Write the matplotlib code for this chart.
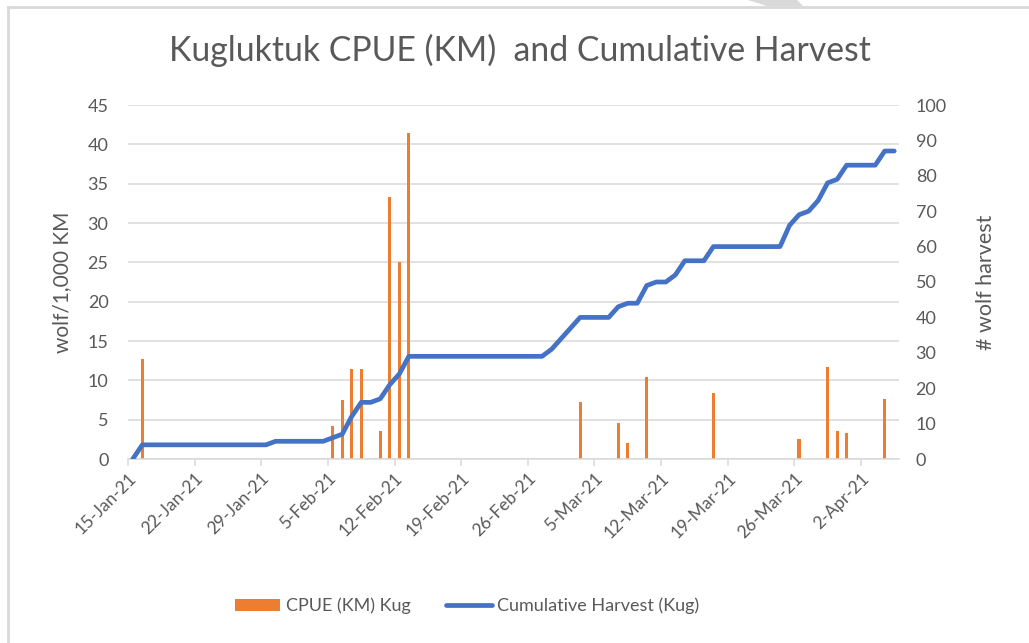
import datetime as dt
import matplotlib
matplotlib.use("Agg")
import matplotlib.pyplot as plt
import matplotlib.dates as mdates
from matplotlib.lines import Line2D
from matplotlib.patches import Polygon

plt.rcParams['font.family'] = ['Lato', 'DejaVu Sans']

# CPUE (wolf per 1,000 km) on the days with a catch
cpue_dates = ["2021-01-16", "2021-02-05", "2021-02-06", "2021-02-07", "2021-02-08",
              "2021-02-10", "2021-02-11", "2021-02-12", "2021-02-13",
              "2021-03-03", "2021-03-07", "2021-03-08", "2021-03-10", "2021-03-17",
              "2021-03-26", "2021-03-29", "2021-03-30", "2021-03-31", "2021-04-04"]
cpue_values = [12.7, 4.2, 7.5, 11.4, 11.4, 3.5, 33.3, 25.0, 41.5,
               7.3, 4.6, 2.0, 10.4, 8.4, 2.5, 11.7, 3.5, 3.3, 7.6]

# cumulative harvest, one value per day from 15-Jan
harvest_start = "2021-01-15"
cumulative_harvest = [0, 4, 4, 4, 4, 4, 4, 4, 4, 4, 4, 4, 4, 4, 4,
                      5, 5, 5, 5, 5, 5, 6, 7, 12, 16, 16, 17, 21, 24, 29,
                      29, 29, 29, 29, 29, 29, 29, 29, 29, 29, 29, 29, 29, 29,
                      31, 34, 37, 40, 40, 40, 40, 43, 44, 44, 49, 50, 50, 52,
                      56, 56, 56, 60, 60, 60, 60, 60, 60, 60, 60,
                      66, 69, 70, 73, 78, 79, 83, 83, 83, 83, 87, 87]

left_ticks = [0, 5, 10, 15, 20, 25, 30, 35, 40, 45]
right_ticks = [0, 10, 20, 30, 40, 50, 60, 70, 80, 90, 100]

orange = "#ED7D31"
blue = "#4472C4"
grey_text = "#595959"
grid_col = "#D9D9D9"

start = dt.datetime.strptime(harvest_start, "%Y-%m-%d")
half_day = dt.timedelta(hours=12)
bar_x = [dt.datetime.strptime(d, "%Y-%m-%d") + half_day for d in cpue_dates]
line_x = [start + dt.timedelta(days=i) + half_day for i in range(len(cumulative_harvest))]

fig = plt.figure(figsize=(10.29, 6.43), dpi=100)
ax = fig.add_axes([128 / 1029, 1 - 459 / 643, 771 / 1029, 354 / 643])
ax2 = ax.twinx()

ax.bar(bar_x, cpue_values, width=0.33, color=orange, zorder=2, label="CPUE (KM) Kug")
ax2.plot(line_x, cumulative_harvest, color=blue, lw=3.4, solid_capstyle="round",
         solid_joinstyle="round", label="Cumulative Harvest (Kug)")

ax.set_xlim(start, start + dt.timedelta(days=81))
ax.set_ylim(0, 45)
ax2.set_ylim(0, 100)
ax.set_yticks(left_ticks)
ax2.set_yticks(right_ticks)

ax.set_xticks([start + dt.timedelta(days=7 * k) for k in range(12)])
ax.xaxis.set_major_formatter(mdates.DateFormatter("%-d-%b-%y"))
for lbl in ax.get_xticklabels():
    lbl.set_rotation(45)
    lbl.set_ha("right")
    lbl.set_rotation_mode("anchor")

ax.grid(axis="y", color=grid_col, lw=1.1, zorder=0)
ax.set_axisbelow(True)
for a in (ax, ax2):
    for s in a.spines.values():
        s.set_visible(False)
ax.spines["bottom"].set_visible(True)
ax.spines["bottom"].set_color(grid_col)
ax.spines["bottom"].set_linewidth(1.1)
ax.tick_params(axis="x", colors=grid_col, length=5, width=1.1, labelcolor=grey_text,
               labelsize=12.5, pad=3)
ax.tick_params(axis="y", length=0, labelcolor=grey_text, labelsize=13, pad=14)
ax2.tick_params(axis="y", length=0, labelcolor=grey_text, labelsize=13, pad=12)

ax.set_ylabel("wolf/1,000 KM", color=grey_text, fontsize=15, labelpad=11)
ax2.set_ylabel("# wolf harvest", color=grey_text, fontsize=15.5, labelpad=21)

fig.text(520 / 1029, 1 - 50 / 643, "Kugluktuk CPUE (KM)  and Cumulative Harvest",
         ha="center", va="center", fontsize=24.3, color=grey_text)

handles = [ax.containers[0], ax2.get_lines()[0]]
leg = fig.legend(handles, ["CPUE (KM) Kug", "Cumulative Harvest (Kug)"],
                 loc="center", bbox_to_anchor=(467 / 1029, 1 - 606 / 643), ncol=2,
                 frameon=False, fontsize=13, handlelength=2.5, columnspacing=2.0,
                 handletextpad=0.3)
for t in leg.get_texts():
    t.set_color(grey_text)

# chart frame (left and top edges) and the grey shape above it
fig.add_artist(Line2D([7.5 / 1029, 7.5 / 1029], [0, 1 - 7 / 643], color="#D9D9D9", lw=2))
fig.add_artist(Line2D([7.5 / 1029, 1], [1 - 7 / 643, 1 - 7 / 643], color="#D9D9D9", lw=2))
fig.add_artist(Polygon([(748 / 1029, 1), (797 / 1029, 1), (803 / 1029, 1 - 6 / 643),
                        (767 / 1029, 1 - 6 / 643)], closed=True, color="#D9D9D9", lw=0))

fig.savefig("out.png", dpi=100)
